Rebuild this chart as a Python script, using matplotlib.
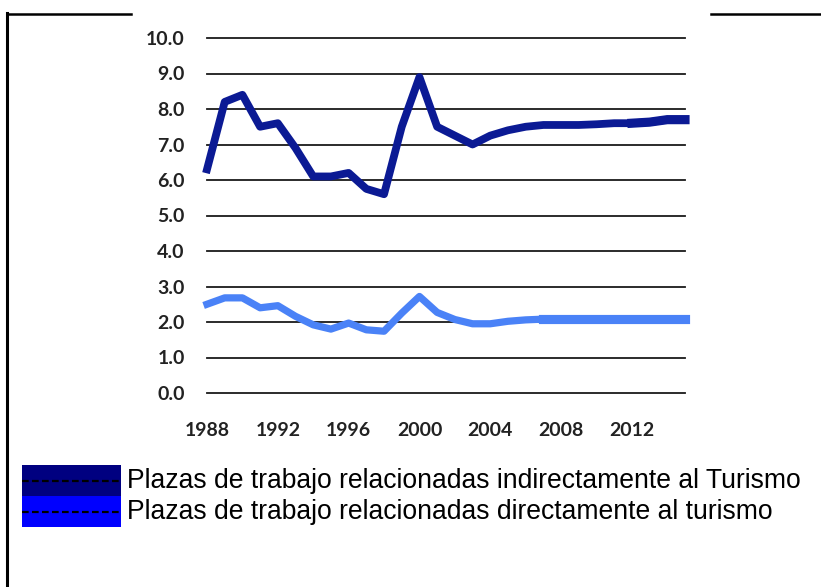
import matplotlib.pyplot as plt
from matplotlib.patches import Rectangle

years = list(range(1988, 2016))
indirect = [6.3, 8.2, 8.4, 7.5, 7.6, 6.9, 6.1, 6.1, 6.2, 5.75, 5.6, 7.5, 8.9, 7.5,
            7.25, 7.0, 7.25, 7.4, 7.5, 7.55, 7.55, 7.55, 7.57, 7.6, 7.6, 7.63, 7.7, 7.7]
direct = [2.5, 2.68, 2.68, 2.4, 2.46, 2.16, 1.92, 1.8, 1.97, 1.78, 1.74, 2.25, 2.72, 2.27,
          2.07, 1.95, 1.95, 2.02, 2.06, 2.08, 2.08, 2.08, 2.08, 2.08, 2.08, 2.08, 2.08, 2.08]
yticks = [0, 1, 2, 3, 4, 5, 6, 7, 8, 9, 10]
xticks = [1988, 1992, 1996, 2000, 2004, 2008, 2012]
legend_labels = ['Plazas de trabajo relacionadas indirectamente al Turismo',
                 'Plazas de trabajo relacionadas directamente al turismo']

W, H = 821, 587
fig = plt.figure(figsize=(W / 100, H / 100), dpi=100)

ax = fig.add_axes([207 / W, 1 - 393 / H, (685 - 207) / W, (393 - 38) / H])
ax.set_xlim(1988, 2015)
ax.set_ylim(0, 10)
for v in yticks:
    ax.axhline(v, color='#1a1a1a', lw=1.3, zorder=1, clip_on=False)

ax.plot(years, direct, color='#4a82f7', lw=5.2, zorder=2, clip_on=False)
ax.plot(years[19:], direct[19:], color='#4a82f7', lw=6.6, zorder=2, clip_on=False)
ax.plot(years, indirect, color='#0b1a94', lw=5.6, zorder=3, clip_on=False)
ax.plot(years[24:], indirect[24:], color='#0b1a94', lw=6.6, zorder=3, clip_on=False)

for s in ax.spines.values():
    s.set_visible(False)
ax.set_yticks(yticks)
ax.set_yticklabels([f'{v:.1f}' for v in yticks])
ax.set_xticks(xticks)
ax.set_xticklabels([str(x) for x in xticks])
ax.tick_params(length=0)
ax.tick_params(axis='y', pad=16)
ax.tick_params(axis='x', pad=21)
for lab in ax.get_yticklabels() + ax.get_xticklabels():
    lab.set_fontfamily('Lato')
    lab.set_fontweight('bold')
    lab.set_fontsize(14)
    lab.set_color('#222222')

# frame and legend, pixel coordinates
ov = fig.add_axes([0, 0, 1, 1], zorder=-1)
ov.set_xlim(0, W)
ov.set_ylim(H, 0)
ov.axis('off')
ov.plot([7, 131], [14, 14], color='black', lw=1.8)
ov.plot([711, W], [14, 14], color='black', lw=1.8)
ov.plot([7, 7], [13, H], color='black', lw=2.2)

leg_colors = ['#000080', '#0000ff']
for i, (c, lab) in enumerate(zip(leg_colors, legend_labels)):
    y0 = 465 + i * 31
    ov.add_patch(Rectangle((22, y0), 99, 31, facecolor=c, edgecolor='none'))
    ov.plot([22, 121], [y0 + 15.5, y0 + 15.5], color='black', lw=1.6, ls=(0, (3, 1.5)))
    ov.text(127, y0 + 16, lab, fontfamily='Liberation Sans', fontsize=19.1,
            va='center', ha='left', color='black')

fig.savefig('out.png', dpi=100)
